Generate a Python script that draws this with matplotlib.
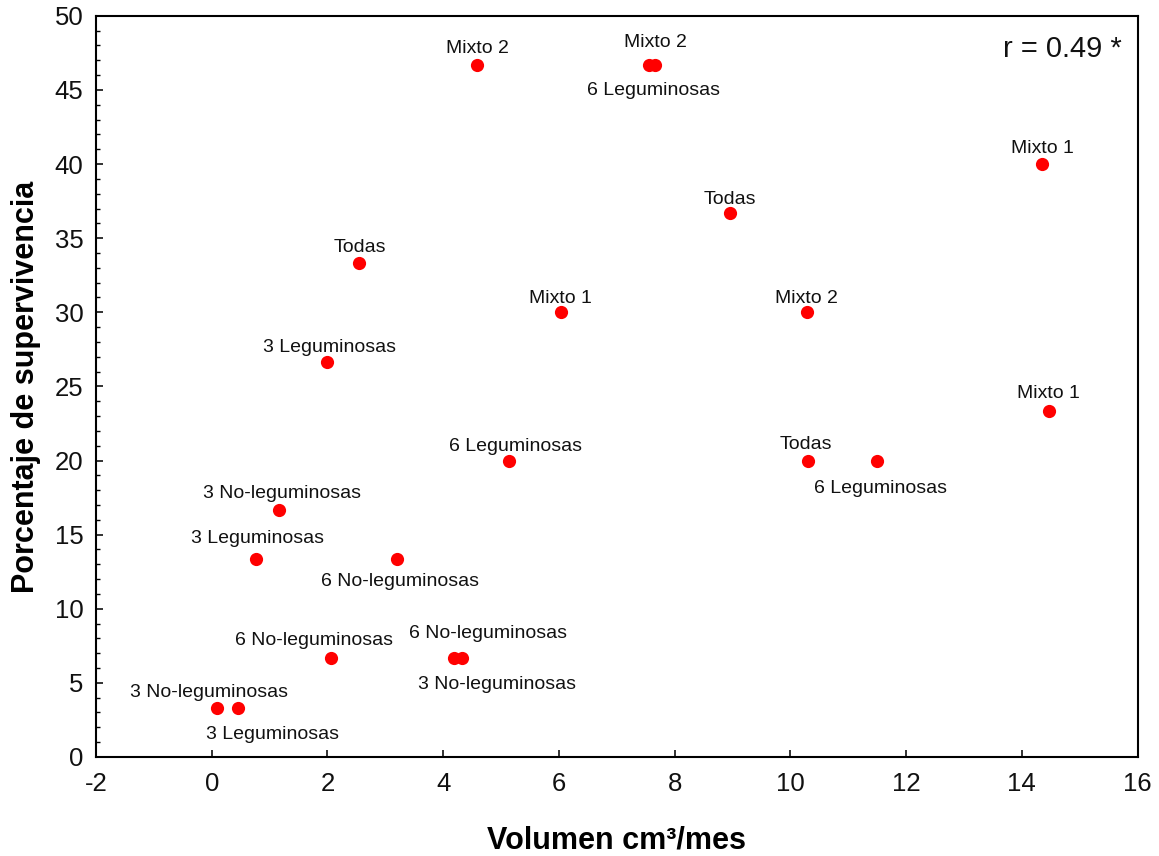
import matplotlib.pyplot as plt
from matplotlib.ticker import MultipleLocator

plt.rcParams['font.family'] = ['Liberation Sans', 'DejaVu Sans']
plt.rcParams['axes.unicode_minus'] = False

# volumen (cm3/mes) vs porcentaje de supervivencia por tratamiento
volumen = [4.58, 7.56, 7.66, 14.34, 8.95, 2.54, 6.03, 10.28, 1.99, 14.47,
           5.13, 10.31, 11.50, 1.16, 0.76, 3.21, 2.06, 4.18, 4.32, 0.09, 0.45]
supervivencia = [46.67, 46.67, 46.67, 40.0, 36.67, 33.33, 30.0, 30.0, 26.67, 23.33,
                 20.0, 20.0, 20.0, 16.67, 13.33, 13.33, 6.67, 6.67, 6.67, 3.33, 3.33]
tratamiento = ["Mixto 2", "Mixto 2", "6 Leguminosas", "Mixto 1", "Todas", "Todas",
               "Mixto 1", "Mixto 2", "3 Leguminosas", "Mixto 1", "6 Leguminosas",
               "Todas", "6 Leguminosas", "3 No-leguminosas", "3 Leguminosas",
               "6 No-leguminosas", "6 No-leguminosas", "6 No-leguminosas",
               "3 No-leguminosas", "3 No-leguminosas", "3 Leguminosas"]
# label offsets in pixels from each point
offsets = [(1, 17), (6, 23), (-1, -25), (1, 16), (0, 14), (1, 15),
           (0, 14), (0, 14), (3, 14), (-1, 18), (7, 14),
           (-2, 16), (3, -28), (3, 16), (2, 21),
           (3, -22), (-17, 18), (34, 25),
           (35, -26), (-8, 15), (35, -27)]

fig, ax = plt.subplots(figsize=(11.59, 8.56), dpi=100)
fig.subplots_adjust(left=0.0828, right=0.9815, top=0.9815, bottom=0.1157)

ax.plot(volumen, supervivencia, 'o', color='#ff0000', markersize=9.5,
        markeredgewidth=0, zorder=3)

for x, y, t, (dx, dy) in zip(volumen, supervivencia, tratamiento, offsets):
    ax.annotate(t, (x, y), xytext=(dx, dy), textcoords='offset pixels',
                ha='center', va='center', fontsize=14, color='#111111')

ax.text(0.985, 0.955, "r = 0.49 *", transform=ax.transAxes, ha='right',
        va='center', fontsize=21, color='#111111')

ax.set_xlim(-2, 16)
ax.set_ylim(0, 50)
ax.xaxis.set_major_locator(MultipleLocator(2))
ax.yaxis.set_major_locator(MultipleLocator(5))
ax.yaxis.set_minor_locator(MultipleLocator(1))
ax.tick_params(axis='both', which='major', direction='in', length=5, width=1.2,
               labelsize=18.5, colors='#111111')
ax.tick_params(axis='x', which='major', pad=11)
ax.tick_params(axis='y', which='major', pad=9)
ax.tick_params(axis='y', which='minor', direction='in', length=3, width=1)
ax.tick_params(axis='x', which='minor', bottom=False)
for s in ax.spines.values():
    s.set_linewidth(1.5)

ax.set_xlabel("Volumen cm³/mes", fontsize=22, fontweight='bold', labelpad=21)
ax.set_ylabel("Porcentaje de supervivencia", fontsize=22, fontweight='bold',
              labelpad=10)

fig.savefig("out.png", dpi=100)
